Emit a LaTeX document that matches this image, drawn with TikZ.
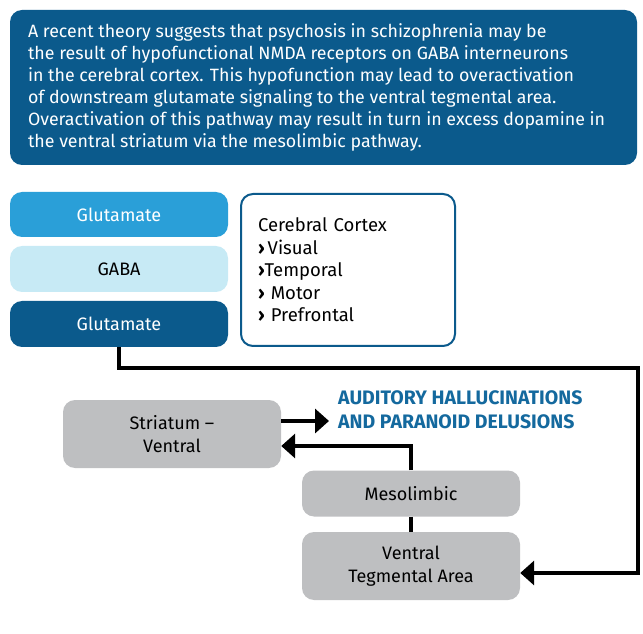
\documentclass[tikz,border=0pt]{standalone}
\usepackage{fontspec}
\setmainfont{Fira Sans}
\IfFontExistsTF{FiraSans-Medium.otf}
 {\newfontfamily\headfont{FiraSans-Medium.otf}}
 {\newfontfamily\headfont{Fira Sans}}
\usetikzlibrary{arrows.meta}
\definecolor{darkblue}{HTML}{0B5A8C}
\definecolor{lightblue}{HTML}{2A9FD8}
\definecolor{paleblue}{HTML}{C7EAF5}
\definecolor{boxgrey}{HTML}{BEBFC1}
\definecolor{labelblue}{HTML}{14699E}
\tikzstyle{panel}=[rounded corners=12pt, minimum width=218pt, align=center, inner sep=0pt, font=\fontsize{18}{22.5}\selectfont]
\tikzstyle{grey}=[panel, fill=boxgrey]
\tikzstyle{wire}=[line width=4pt, black]
\tikzstyle{arr}=[wire, -{Triangle[length=14pt,width=24pt]}]

\begin{document}
\begin{tikzpicture}[x=1pt, y=1pt]
 \useasboundingbox (0,0) rectangle (643,633);
%
 \node[panel, fill=darkblue, minimum width=627pt, minimum height=155pt] (theorybox) at (323.5,545.5) {};
 \node[anchor=west, inner sep=0pt, align=left, text=white, font=\headfont\fontsize{17.8}{22}\selectfont] (theory) at ([xshift=18pt]theorybox.west) {A recent theory suggests that psychosis in schizophrenia may be\\ the result of hypofunctional NMDA receptors on GABA interneurons\\ in the cerebral cortex. This hypofunction may lead to overactivation\\ of downstream glutamate signaling to the ventral tegmental area.\\ Overactivation of this pathway may result in turn in excess dopamine in\\ the ventral striatum via the mesolimbic pathway.};
%
 \node[panel, fill=lightblue, text=white, minimum height=45pt] (glutop) at (119,418.5) {Glutamate};
 \node[panel, fill=paleblue, minimum height=46pt] (gaba) at (119,364) {GABA};
 \node[panel, fill=darkblue, text=white, minimum height=46pt] (glubottom) at (119,309) {Glutamate};
 \node[panel, draw=darkblue, line width=2pt, fill=white, minimum width=214pt, minimum height=152pt, text width=180pt, align=left, font=\fontsize{18.5}{22.5}\selectfont] (cortex) at (348,363) {Cerebral Cortex\\ {\bfseries ›}\,Visual\\ {\bfseries ›}Temporal\\ {\bfseries ›} Motor\\ {\bfseries ›} Prefrontal};
%
 \node[grey, minimum height=68pt] (striatum) at (172,199) {Striatum –\\ Ventral};
 \node[grey, minimum height=46pt] (meso) at (411,139.5) {Mesolimbic};
 \node[grey, minimum height=68pt] (vta) at (411,67) {Ventral\\ Tegmental Area};
 \node[anchor=west, inner sep=0pt, align=left, text=labelblue, font=\bfseries\fontsize{19.5}{24}\selectfont] (halluc) at (338,223) {AUDITORY HALLUCINATIONS\\ AND PARANOID DELUSIONS};
%
 \coordinate (corner) at (638,265);
 \draw[arr] (glubottom.south) |- (corner) |- ([yshift=-7pt]vta.east);
 \draw[arr, shorten >=9pt] ([yshift=13pt]striatum.east) -- ([yshift=13pt]striatum.east -| halluc.west);
 \draw[arr] (meso.north) |- ([yshift=-12pt]striatum.east);
 \draw[wire] (meso.south) -- (vta.north);
\end{tikzpicture}
\end{document}
